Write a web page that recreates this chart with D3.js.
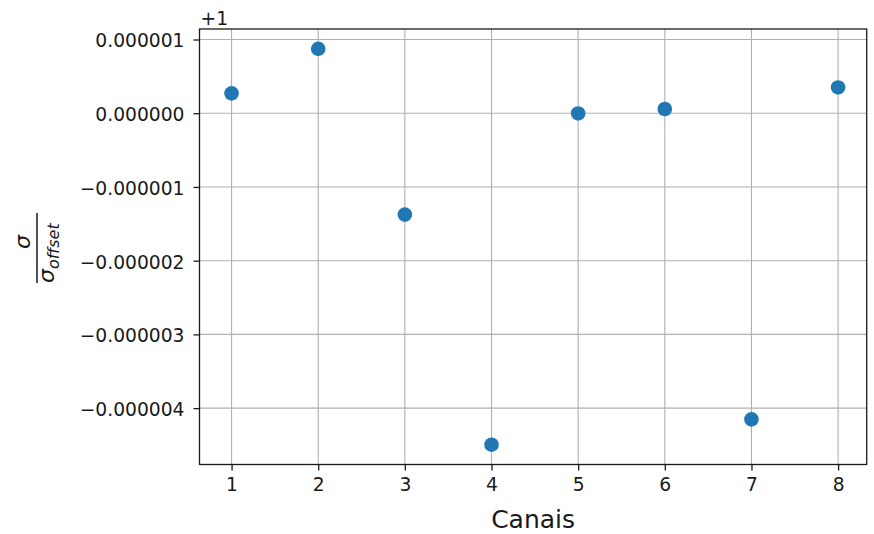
<!DOCTYPE html>
<html>
<head>
<meta charset="utf-8">
<script src="https://cdn.jsdelivr.net/npm/d3@7"></script>
<style>
  html, body { margin: 0; padding: 0; background: #fff; }
  svg { display: block; }
  text { font-family: "DejaVu Sans", sans-serif; fill: #1a1a1a; }
</style>
</head>
<body>
<svg id="chart" width="874" height="534"></svg>
<script>
// Channel numbers on the x axis
const channels = [1, 2, 3, 4, 5, 6, 7, 8];
// Ratio sigma / sigma_offset for each channel, stored as deviation from 1 in units of 1e-6
const deviations = [0.27, 0.874, -1.375, -4.496, -0.003, 0.057, -4.153, 0.35];
const offsetValue = 1;
const scaleFactor = 1e-6;
// Tick values (deviation units)
const yTicks = [-4, -3, -2, -1, 0, 1];
const xTicks = [1, 2, 3, 4, 5, 6, 7, 8];
// Axis limits
const xLimits = [0.63, 8.33];

const svg = d3.select("#chart");
const margin = { left: 199.5, right: 874 - 866.7, top: 29, bottom: 534 - 464.5 };
const W = 874, H = 534;
const plotW = W - margin.left - margin.right;
const plotH = H - margin.top - margin.bottom;

// Y domain padded by 5% on each side
const yExt = d3.extent(deviations);
const yPad = (yExt[1] - yExt[0]) * 0.05;

const x = d3.scaleLinear().domain(xLimits).range([0, plotW]);
const y = d3.scaleLinear().domain([yExt[0] - yPad, yExt[1] + yPad]).range([plotH, 0]);

const g = svg.append("g").attr("transform", `translate(${margin.left},${margin.top})`);

// Grid lines
g.append("g").selectAll("line.vg").data(xTicks).join("line")
  .attr("x1", d => x(d)).attr("x2", d => x(d))
  .attr("y1", 0).attr("y2", plotH)
  .attr("stroke", "#b0b0b0").attr("stroke-width", 1.1);
g.append("g").selectAll("line.hg").data(yTicks).join("line")
  .attr("x1", 0).attr("x2", plotW)
  .attr("y1", d => y(d)).attr("y2", d => y(d))
  .attr("stroke", "#b0b0b0").attr("stroke-width", 1.1);

// Axes with tick labels
const fmt = v => {
  const s = Math.abs(v * scaleFactor).toFixed(6);
  return (v < 0 ? "\u2212" : "") + s;
};
const xAxis = d3.axisBottom(x).tickValues(xTicks).tickSize(6).tickPadding(7).tickFormat(d3.format("d"));
const yAxis = d3.axisLeft(y).tickValues(yTicks).tickSize(6).tickPadding(9).tickFormat(fmt);

const xg = g.append("g").attr("transform", `translate(0,${plotH})`).call(xAxis);
const yg = g.append("g").call(yAxis);
[xg, yg].forEach(a => {
  a.select(".domain").remove();
  a.selectAll(".tick line").attr("stroke", "#1a1a1a").attr("stroke-width", 1.3);
  a.selectAll(".tick text").attr("font-size", 18.7).attr("font-family", "DejaVu Sans").attr("fill", "#1a1a1a");
});
yg.selectAll(".tick text").attr("dy", "0.4em");
xg.selectAll(".tick text").attr("dy", "0.72em");

// Frame
g.append("rect").attr("x", 0).attr("y", 0).attr("width", plotW).attr("height", plotH)
  .attr("fill", "none").attr("stroke", "#1a1a1a").attr("stroke-width", 1.3);

// Points
g.append("g").selectAll("circle").data(channels).join("circle")
  .attr("cx", d => x(d))
  .attr("cy", (d, i) => y(deviations[i]))
  .attr("r", 7.3)
  .attr("fill", "#1f77b4");

// Offset annotation above the y axis
svg.append("text").attr("x", margin.left + 1).attr("y", 25)
  .attr("font-size", 18.7).text("+" + offsetValue);

// X label
svg.append("text").attr("x", margin.left + plotW / 2).attr("y", 528)
  .attr("text-anchor", "middle").attr("font-size", 25).text("Canais");

// Y label: fraction sigma / sigma_offset, rotated
const yl = svg.append("g").attr("transform", "translate(37,248) rotate(-90)");
yl.append("line").attr("x1", -35).attr("x2", 35).attr("y1", 0).attr("y2", 0)
  .attr("stroke", "#1a1a1a").attr("stroke-width", 1.5);
yl.append("text").attr("x", 6).attr("y", -7).attr("text-anchor", "middle")
  .attr("font-size", 22).attr("font-style", "italic").text("σ");
const den = yl.append("text").attr("x", -35).attr("y", 17).attr("font-style", "italic");
den.append("tspan").attr("font-size", 22).text("σ");
den.append("tspan").attr("font-size", 16).attr("dy", 5).text("offset");
</script>
</body>
</html>
